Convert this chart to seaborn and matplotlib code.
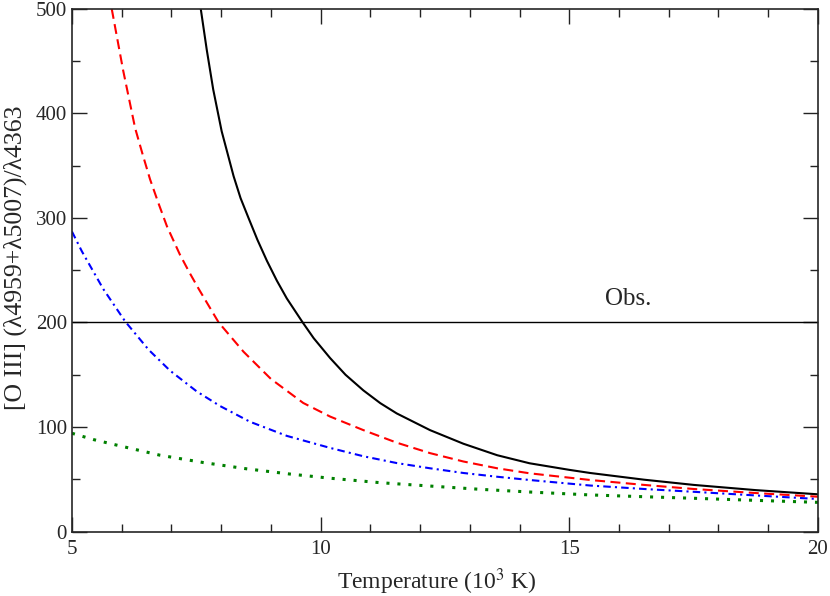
import numpy as np
import pandas as pd
import seaborn as sns
import matplotlib.pyplot as plt
from matplotlib.ticker import MultipleLocator

# curves (temperature in 10^3 K, line ratio)
t_black = [7.59, 7.71, 7.84, 8.01, 8.25, 8.39, 8.55, 8.73, 8.92, 9.12, 9.32, 9.64, 9.86, 10.19, 10.5, 10.86,
           11.2, 11.53, 12.2, 12.87, 13.55, 14.2, 15.0, 15.42, 16.5, 17.5, 18.75, 20.0]
r_black = [500, 461, 423, 383, 340, 319, 300, 279, 259, 240, 223, 200, 185, 166, 150, 135,
           122.8, 113, 97, 84, 73, 65.3, 59, 56.0, 49.6, 44.6, 39.6, 35.6]

t_red = [5.8, 6.03, 6.27, 6.42, 6.57, 6.74, 6.91, 7.17, 7.36, 7.55, 7.95, 8.45, 9.0, 9.65, 10.19, 10.86, 11.53,
         12.2, 12.87, 13.55, 14.2, 15.42, 16.5, 17.5, 18.75, 20.0]
r_red = [500, 441, 386, 361, 337, 314, 292, 265, 248, 232, 200, 172, 146, 123, 110, 97, 85,
         75, 67, 60.5, 55.7, 49.3, 44.6, 40.7, 36.8, 33.3]

t_blue = [5.0, 5.2, 5.63, 6.07, 6.54, 6.97, 7.51, 7.98, 8.58, 9.32, 10.19, 10.86, 11.53, 12.2,
          12.87, 13.55, 14.2, 15.42, 16.5, 17.5, 18.75, 20.0]
r_blue = [287, 268, 232, 201, 174, 154, 134, 120, 105, 91.5, 80, 72, 65.5, 60.5,
          56, 52.4, 49.3, 44, 40.7, 38, 34.5, 31.1]

t_green = [5.0, 5.43, 5.87, 6.77, 7.64, 8.51, 9.38, 10.19, 11.2, 12.2, 13.2, 14.2, 15.42, 16.5, 17.5, 18.75, 20.0]
r_green = [94, 88, 83, 73, 66, 60, 55, 51, 46.7, 43.5, 40.4, 37.8, 35, 33.3, 31.8, 29.8, 27.9]

obs_ratio = 200

sns.set_style('ticks')
plt.rcParams['font.family'] = ['Liberation Serif', 'DejaVu Serif']
plt.rcParams['mathtext.fontset'] = 'stix'

fig = plt.figure(figsize=(8.3, 5.96), dpi=100)
ax = fig.add_axes([0.0867, 0.1082, 0.8988, 0.8768])

styles = [
    (t_black, r_black, 'black', '-', 1.5),
    (t_red, r_red, 'red', (0, (4.8, 2.6)), 1.5),
    (t_blue, r_blue, 'blue', (0, (3.6, 2.0, 1.0, 2.0)), 1.5),
    (t_green, r_green, 'green', (0, (1, 2.6)), 2.2),
]
for t, r, col, ls, lw in styles:
    df = pd.DataFrame({'T': t, 'R': r})
    sns.lineplot(data=df, x='T', y='R', color=col, linestyle=ls, linewidth=lw, ax=ax)

ax.axhline(obs_ratio, color='black', linewidth=1.0)
ax.text(15.72, 216.5, 'Obs.', fontsize=18)

ax.set_xlim(5, 20)
ax.set_ylim(0, 500)
ax.xaxis.set_major_locator(MultipleLocator(5))
ax.xaxis.set_minor_locator(MultipleLocator(1))
ax.yaxis.set_major_locator(MultipleLocator(100))
ax.yaxis.set_minor_locator(MultipleLocator(50))
ax.tick_params(which='both', direction='in', top=True, right=True, labelsize=15, width=1.0, color='#222222')
ax.tick_params(which='major', length=10.5)
ax.tick_params(which='minor', length=5.5)
ax.tick_params(axis='x', pad=6)
for sp in ax.spines.values():
    sp.set_linewidth(1.2)

ax.set_xlabel('Temperature (10$^3$ K)', fontsize=17)
ax.set_ylabel('[O III] (λ4959+λ5007)/λ4363', fontsize=18.5)
ax.xaxis.set_label_coords(0.489, -0.066)
ax.yaxis.set_label_coords(-0.060, 0.524)

fig.savefig('out.png', dpi=100)
